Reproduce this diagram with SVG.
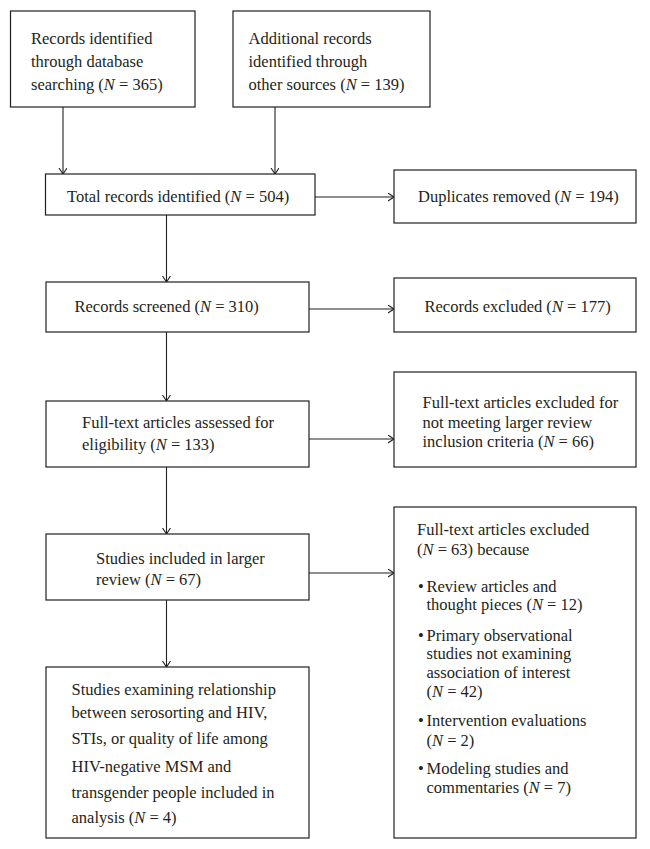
<svg xmlns="http://www.w3.org/2000/svg" width="650" height="849" viewBox="0 0 650 849">
<style>
.box{fill:#fff;stroke:#231f20;stroke-width:1.2}
.t{font-family:"Liberation Serif","Times New Roman",serif;font-size:16.5px;fill:#231f20}
.c{stroke:#231f20;stroke-width:1.1;fill:none}
.i{font-style:italic}
</style>
<defs>
<marker id="ah" markerUnits="userSpaceOnUse" markerWidth="10" markerHeight="10" refX="6" refY="4" orient="auto">
<path d="M0,0 L6,4 L0,8" fill="none" stroke="#231f20" stroke-width="1.1"/>
</marker>
</defs>
<rect width="650" height="849" fill="#fff"/>
<g id="connectors">
<line class="c" x1="63" y1="107" x2="63" y2="174" marker-end="url(#ah)"/>
<line class="c" x1="275" y1="107" x2="275" y2="174" marker-end="url(#ah)"/>
<line class="c" x1="315" y1="197" x2="394" y2="197" marker-end="url(#ah)"/>
<line class="c" x1="166.5" y1="215" x2="166.5" y2="282" marker-end="url(#ah)"/>
<line class="c" x1="309" y1="309" x2="394" y2="309" marker-end="url(#ah)"/>
<line class="c" x1="166.5" y1="332" x2="166.5" y2="401" marker-end="url(#ah)"/>
<line class="c" x1="309" y1="439" x2="394" y2="439" marker-end="url(#ah)"/>
<line class="c" x1="166.5" y1="467" x2="166.5" y2="534" marker-end="url(#ah)"/>
<line class="c" x1="309" y1="573" x2="394" y2="573" marker-end="url(#ah)"/>
<line class="c" x1="166.5" y1="600" x2="166.5" y2="667" marker-end="url(#ah)"/>
</g>
<g id="db">
<rect class="box" x="10.5" y="11" width="184.5" height="96"/>
<text class="t" x="31" y="44">Records identified</text>
<text class="t" x="31" y="67">through database</text>
<text class="t" x="31" y="90">searching (<tspan class="i">N</tspan> = 365)</text>
</g>
<g id="other">
<rect class="box" x="233" y="11" width="197" height="96"/>
<text class="t" x="248.5" y="44">Additional records</text>
<text class="t" x="248.5" y="67">identified through</text>
<text class="t" x="248.5" y="90">other sources (<tspan class="i">N</tspan> = 139)</text>
</g>
<g id="total">
<rect class="box" x="45.5" y="174" width="269.5" height="41"/>
<text class="t" x="67" y="202">Total records identified (<tspan class="i">N</tspan> = 504)</text>
</g>
<g id="dup">
<rect class="box" x="394" y="170" width="242" height="53"/>
<text class="t" x="418" y="202">Duplicates removed (<tspan class="i">N</tspan> = 194)</text>
</g>
<g id="screened">
<rect class="box" x="46" y="282" width="263" height="50"/>
<text class="t" x="74.5" y="312">Records screened (<tspan class="i">N</tspan> = 310)</text>
</g>
<g id="excluded">
<rect class="box" x="394" y="278" width="242" height="54"/>
<text class="t" x="424.5" y="312">Records excluded (<tspan class="i">N</tspan> = 177)</text>
</g>
<g id="fulltext">
<rect class="box" x="46" y="401" width="263" height="66"/>
<text class="t" x="82" y="428">Full-text articles assessed for</text>
<text class="t" x="82" y="450">eligibility (<tspan class="i">N</tspan> = 133)</text>
</g>
<g id="ftexcl">
<rect class="box" x="394" y="372" width="242" height="95"/>
<text class="t" x="422.5" y="408">Full-text articles excluded for</text>
<text class="t" x="422.5" y="428">not meeting larger review</text>
<text class="t" x="422.5" y="447">inclusion criteria (<tspan class="i">N</tspan> = 66)</text>
</g>
<g id="studies">
<rect class="box" x="46" y="534" width="263" height="66"/>
<text class="t" x="96" y="564">Studies included in larger</text>
<text class="t" x="96" y="585">review (<tspan class="i">N</tspan> = 67)</text>
</g>
<g id="reasons">
<rect class="box" x="394" y="507" width="242" height="331"/>
<text class="t" x="417" y="535">Full-text articles excluded</text>
<text class="t" x="417" y="555">(<tspan class="i">N</tspan> = 63) because</text>
<text class="t" x="418" y="592">•</text>
<text class="t" x="426.5" y="592">Review articles and</text>
<text class="t" x="426.5" y="610">thought pieces (<tspan class="i">N</tspan> = 12)</text>
<text class="t" x="418" y="641">•</text>
<text class="t" x="426.5" y="641">Primary observational</text>
<text class="t" x="426.5" y="659">studies not examining</text>
<text class="t" x="426.5" y="677.5">association of interest</text>
<text class="t" x="426.5" y="697">(<tspan class="i">N</tspan> = 42)</text>
<text class="t" x="418" y="726">•</text>
<text class="t" x="426.5" y="726">Intervention evaluations</text>
<text class="t" x="426.5" y="746">(<tspan class="i">N</tspan> = 2)</text>
<text class="t" x="418" y="774">•</text>
<text class="t" x="426.5" y="774">Modeling studies and</text>
<text class="t" x="426.5" y="793">commentaries (<tspan class="i">N</tspan> = 7)</text>
</g>
<g id="final">
<rect class="box" x="46" y="667" width="263" height="171"/>
<text class="t" x="71.5" y="695">Studies examining relationship</text>
<text class="t" x="71.5" y="718">between serosorting and HIV,</text>
<text class="t" x="71.5" y="744">STIs, or quality of life among</text>
<text class="t" x="71.5" y="772">HIV-negative MSM and</text>
<text class="t" x="71.5" y="798">transgender people included in</text>
<text class="t" x="71.5" y="823">analysis (<tspan class="i">N</tspan> = 4)</text>
</g>
</svg>
